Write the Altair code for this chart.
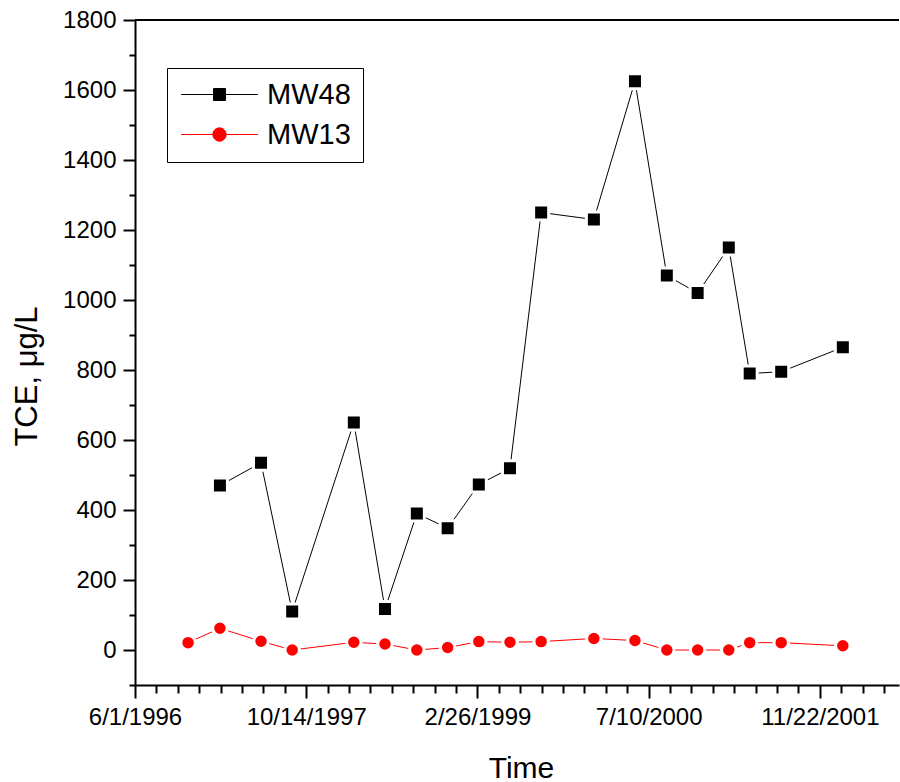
import altair as alt
import pandas as pd

# Sampling dates shared by both monitoring wells
dates = ["1996-11-03", "1997-02-04", "1997-06-04", "1997-09-03", "1998-03-02",
         "1998-06-01", "1998-09-02", "1998-12-01", "1999-03-02", "1999-06-01",
         "1999-08-31", "2000-02-01", "2000-05-31", "2000-09-01", "2000-11-30",
         "2001-03-01", "2001-05-01", "2001-08-01", "2002-01-28"]
# TCE concentrations in ug/L (MW48 was not sampled on the first date)
mw48 = [None, 470, 535, 110, 650, 117, 390, 348, 473, 519,
        1250, 1230, 1625, 1070, 1020, 1150, 790, 795, 865]
mw13 = [21, 62, 25, 0, 22, 17, 0, 7, 24, 22,
        24, 33, 27, 0, 0, 0, 21, 21, 12]

series_names = ["MW48", "MW13"]
series_colors = ["#000000", "#ff0000"]
marker_shapes = ["square", "circle"]
marker_sizes = [225, 209]
# legend keys: a line running through the marker (units of 6 px)
legend_keys = [
    "M-6.4,0H6.4M-1,-1H1V1H-1Z",
    "M-6.4,0H6.4M-1.11,0A1.11,1.11,0,1,0,1.11,0A1.11,1.11,0,1,0,-1.11,0Z",
]

x_start, x_end = "1996-06-01", "2002-07-11"
y_min, y_max = -100, 1800

rows = []
for name, vals in zip(series_names, [mw48, mw13]):
    for d, v in zip(dates, vals):
        if v is not None:
            rows.append({"date": d, "series": name, "tce": v})
df = pd.DataFrame(rows)

DAY = 86_400_000
t0 = int(pd.Timestamp(x_start, tz="UTC").value // 10**6)
t1 = int(pd.Timestamp(x_end, tz="UTC").value // 10**6)
minor_step = 125 * DAY // 2      # 62.5 days
major_step = 500 * DAY
x_ticks = list(range(t0, t1 + 1, minor_step))
y_ticks = list(range(y_min, y_max + 1, 100))

FONT = "Liberation Sans"
x_major = f"(+datum.value - {t0}) % {major_step} === 0"
y_major = "datum.value % 200 === 0"

x_scale = alt.Scale(type="utc", domain=[t0, t1], nice=False)
y_scale = alt.Scale(domain=[y_min, y_max], nice=False, zero=False)

x_axis = alt.Axis(
    values=x_ticks,
    labelExpr=f"{x_major} ? utcFormat(datum.value, '%-m/%-d/%Y') : ''",
    labelOverlap=False, labelFlush=False, labelBound=False,
    labelFontSize=24, labelFont=FONT, labelPadding=7,
    tickSize={"condition": {"test": x_major, "value": 13}, "value": 8},
    tickWidth=2, domainWidth=2, grid=False,
    title="Time", titleFont=FONT, titleFontSize=30, titleFontWeight="normal",
    titleX=386, titleY=92, titleAlign="center", titleBaseline="alphabetic",
)
y_axis = alt.Axis(
    values=y_ticks,
    labelExpr=f"{y_major} ? format(datum.value, 'd') : ''",
    labelOverlap=False, labelFlush=False, labelBound=False,
    labelFontSize=24, labelFont=FONT, labelPadding=7,
    tickSize={"condition": {"test": y_major, "value": 12}, "value": 6},
    tickWidth=2, domainWidth=2, grid=False,
    title="TCE, μg/L", titleFont=FONT, titleFontSize=31, titleFontWeight="normal",
    titleAngle=270, titleX=-99, titleY=356, titleAlign="center",
    titleBaseline="alphabetic",
)

x_enc = alt.X("date:T", scale=x_scale, axis=x_axis)
y_enc = alt.Y("tce:Q", scale=y_scale, axis=y_axis)

base = alt.Chart(df)

# top frame line at the upper end of the y range
frame_top = alt.Chart(pd.DataFrame({"tce": [y_max]})).mark_rule(
    color="black", strokeWidth=2
).encode(y=y_enc)

lines = base.mark_line(strokeWidth=1).encode(
    x=x_enc, y=y_enc,
    color=alt.Color("series:N", scale=alt.Scale(domain=series_names, range=series_colors), legend=None),
)

points = base.mark_point(filled=True, opacity=1, stroke="white", strokeWidth=3).encode(
    x=x_enc, y=y_enc,
    fill=alt.Fill("series:N", scale=alt.Scale(domain=series_names, range=series_colors), legend=None),
    shape=alt.Shape("series:N", scale=alt.Scale(domain=series_names, range=marker_shapes), legend=None),
    size=alt.Size("series:N", scale=alt.Scale(domain=series_names, range=marker_sizes), legend=None),
)

legend = alt.Legend(
    title=None, orient="none", legendX=32, legendY=48,
    padding=12, strokeColor="black", fillColor="white",
    labelFont=FONT, labelFontSize=29, labelColor="black", labelLimit=300,
    symbolSize=144, symbolStrokeWidth=1, symbolOpacity=1,
    symbolOffset=26, labelOffset=33, rowPadding=10,
)

legend_layer = base.transform_filter("false").mark_point(
    filled=True, opacity=1, strokeWidth=1
).encode(
    fill=alt.Fill("series:N", scale=alt.Scale(domain=series_names, range=series_colors), legend=legend),
    stroke=alt.Stroke("series:N", scale=alt.Scale(domain=series_names, range=series_colors), legend=legend),
    shape=alt.Shape("series:N", scale=alt.Scale(domain=series_names, range=legend_keys), legend=legend),
)

chart = alt.layer(frame_top, lines, points, legend_layer).resolve_scale(
    color="independent", fill="independent", stroke="independent",
    shape="independent", size="independent",
).properties(
    width=764, height=665,
    autosize=alt.AutoSizeParams(type="none"),
    padding={"left": 135, "top": 20, "right": 1, "bottom": 97},
    background="white",
).configure_view(stroke=None).configure_axis(
    domainColor="black", tickColor="black", labelColor="black", titleColor="black",
).configure_legend(strokeWidth=1)

chart.save("out.html", embed_options={"renderer": "svg", "actions": False})
